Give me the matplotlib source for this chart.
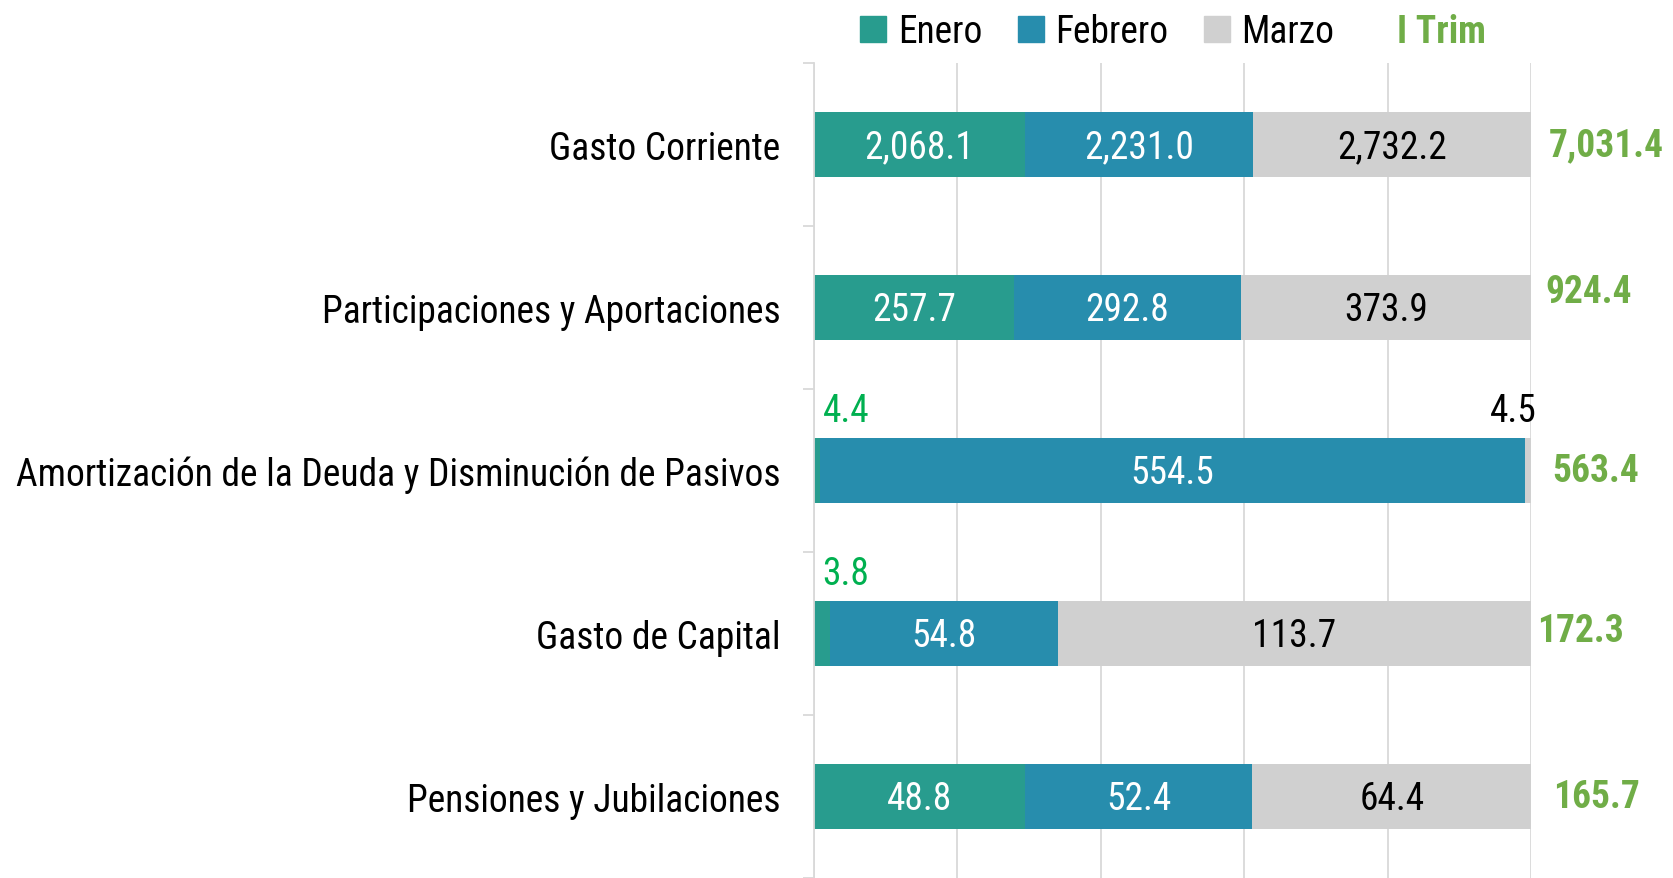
import matplotlib as mpl
mpl.use('Agg')
from matplotlib import pyplot as plt
from matplotlib.patches import Patch
from matplotlib import font_manager
import numpy as np

nombres = sorted({f.name for f in font_manager.fontManager.ttflist})
narrow = [n for n in ['Roboto Condensed', 'Liberation Sans Narrow', 'Open Sans Condensed'] if n in nombres]
plt.rcParams['font.family'] = narrow + ['Liberation Sans', 'DejaVu Sans']

categorias = ["Gasto Corriente", "Participaciones y Aportaciones",
              "Amortización de la Deuda y Disminución de Pasivos",
              "Gasto de Capital", "Pensiones y Jubilaciones"]
enero = [2068.1, 257.7, 4.4, 3.8, 48.8]
febrero = [2231.0, 292.8, 554.5, 54.8, 52.4]
marzo = [2732.2, 373.9, 4.5, 113.7, 64.4]
trimestre = [7031.4, 924.4, 563.4, 172.3, 165.7]
meses = ["Enero", "Febrero", "Marzo"]

c_ene = "#289C8E"
c_feb = "#278DAD"
c_mar = "#D0D0D0"
c_tot = "#70AD47"
c_small = "#00B050"

fs = 27 if narrow else 22

fig = plt.figure(figsize=(16.73, 8.79), dpi=100)
ax = fig.add_axes([0.4866, 0.0, 0.4286, 0.927])

y = np.arange(len(categorias))
series = np.array([enero, febrero, marzo])
pct = series / series.sum(axis=0) * 100
left = np.zeros(len(categorias))
colores = [c_ene, c_feb, c_mar]
txtcol = ["white", "white", "black"]
for i in range(3):
    ax.barh(y, pct[i], left=left, height=0.4, color=colores[i], edgecolor="none", zorder=2)
    for j in range(len(categorias)):
        val = series[i, j]
        if pct[i, j] > 5:
            ax.text(left[j] + pct[i, j] / 2, y[j] + 0.01, f"{val:,.1f}", ha="center", va="center",
                    color=txtcol[i], fontsize=fs, zorder=3)
        elif i == 0:
            ax.text(left[j] + 1.2, y[j] - 0.37, f"{val:,.1f}", ha="left", va="center",
                    color=c_small, fontsize=fs, zorder=3)
        else:
            ax.text(left[j] + pct[i, j] + 0.8, y[j] - 0.37, f"{val:,.1f}", ha="right", va="center",
                    color="black", fontsize=fs, zorder=3)
    left += pct[i]

# posición horizontal de los totales, como en el original
dx_tot = [102.5, 102.0, 103.0, 100.8, 103.0]
dy_tot = [0, -0.1, 0, -0.02, 0]
for j in range(len(categorias)):
    ax.text(dx_tot[j], y[j] + dy_tot[j], f"{trimestre[j]:,.1f}", ha="left", va="center",
            color=c_tot, fontsize=fs, fontweight="bold", clip_on=False)

ax.set_xlim(0, 100)
ax.set_ylim(4.5, -0.5)
ax.set_xticks([0, 20, 40, 60, 80, 100])
ax.xaxis.grid(True, color="#D9D9D9", linewidth=1.3, zorder=0)
ax.tick_params(axis="x", length=0, labelbottom=False)
ax.set_yticks(y)
ax.set_yticklabels(categorias, fontsize=fs)
ax.tick_params(axis="y", which="major", length=0, pad=24)
ax.set_yticks(np.arange(-0.5, 5, 1), minor=True)
ax.tick_params(axis="y", which="minor", length=8, color="#D9D9D9", width=1.3)
for s in ["top", "right", "bottom"]:
    ax.spines[s].set_visible(False)
ax.spines["left"].set_color("#D9D9D9")
ax.spines["left"].set_linewidth(1.3)

handles = [Patch(color=c) for c in colores]
fig.legend(handles, meses, loc="center left", bbox_to_anchor=(0.494, 0.963), ncol=3,
           frameon=False, fontsize=fs, handlelength=0.7, handleheight=0.7,
           handletextpad=0.3, columnspacing=0.95)
fig.text(0.835, 0.963, "I Trim", color=c_tot, fontsize=fs, fontweight="bold",
         ha="left", va="center")

plt.savefig("out.png")
plt.close()
